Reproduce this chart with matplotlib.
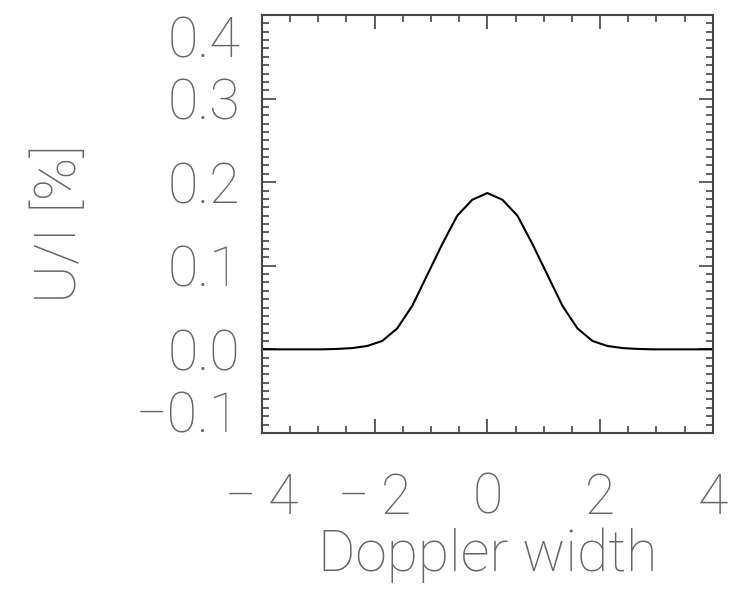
import numpy as np
import matplotlib
matplotlib.use("Agg")
from matplotlib import pyplot as plt
from matplotlib.ticker import MultipleLocator

# Profile samples (x in Doppler widths, U/I in %)
x = np.linspace(-4, 4, 31)
half = [0.0, 0.0, 0.0, 0.0, 0.0, 0.0005, 0.0015, 0.004,
        0.010, 0.025, 0.052, 0.089, 0.126, 0.160, 0.179]
peak = 0.187
u_over_i = half + [peak] + half[::-1]

x_ticks = [-4, -2, 0, 2, 4]
y_ticks = [-0.1, 0.0, 0.1, 0.2, 0.3, 0.4]

txt = "#666666"
plt.rcParams['font.family'] = ['Roboto', 'DejaVu Sans']
plt.rcParams['font.weight'] = 'light'
fs = 40

fig = plt.figure(figsize=(7.55, 5.89), dpi=100)
ax = fig.add_axes([0.347, 0.265, 0.597, 0.7095])

ax.plot(x, u_over_i, color="black", lw=1.5)

ax.set_xlim(-4, 4)
ax.set_ylim(-0.1, 0.4)
ax.set_xticks(x_ticks)
ax.set_yticks(y_ticks)
ax.xaxis.set_minor_locator(MultipleLocator(0.5))
ax.yaxis.set_minor_locator(MultipleLocator(0.01))
ax.set_xticklabels([f"{v:d}".replace("-", "\u2212\u2009") for v in x_ticks],
                   fontweight="light")
ax.set_yticklabels([f"{v:.1f}".replace("-", "\u2212") for v in y_ticks],
                   fontweight="light")

ax.tick_params(which="both", direction="in", top=True, right=True,
               color="#444444", width=1.2, labelcolor=txt, labelsize=fs)
ax.tick_params(which="major", length=10)
ax.tick_params(which="minor", length=5)
ax.tick_params(axis="y", pad=16)
ax.tick_params(axis="x", pad=28)

ylab = ax.get_yticklabels()
ylab[0].set_va("baseline")
ylab[-1].set_va("top")

for s in ax.spines.values():
    s.set_color("#444444")
    s.set_linewidth(1.5)

ax.set_xlabel("Doppler width", fontsize=fs + 1, color=txt, fontweight="light",
              labelpad=2)
ax.set_ylabel("U/I [%]", fontsize=fs + 2, color=txt, fontweight="light",
              labelpad=34)

fig.savefig("out.png", dpi=100)
